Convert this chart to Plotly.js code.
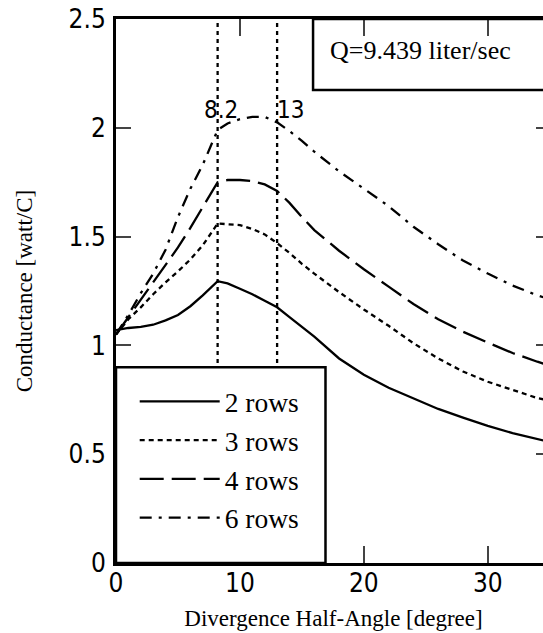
<!DOCTYPE html>
<html>
<head>
<meta charset="utf-8">
<script src="https://cdn.plot.ly/plotly-3.0.1.min.js"></script>
<style>
html,body{margin:0;padding:0;overflow:hidden;background:#fff;}
#chart{width:551px;height:633px;}
</style>
</head>
<body>
<div id="chart"></div>
<script>
// Divergence half-angle [degree]
const angles = [0, 1, 2, 3, 4, 5, 6, 7, 8.2, 9, 10, 11, 12, 13, 14, 15, 16, 18, 20, 22, 24, 26, 28, 30, 32, 34, 35.1];
// Conductance [watt/C]
const rows2 = [1.07, 1.08, 1.085, 1.095, 1.115, 1.14, 1.18, 1.23, 1.295, 1.285, 1.26, 1.235, 1.205, 1.175, 1.13, 1.085, 1.04, 0.94, 0.865, 0.805, 0.756, 0.708, 0.668, 0.63, 0.597, 0.57, 0.555];
const rows3 = [1.05, 1.12, 1.175, 1.235, 1.29, 1.34, 1.395, 1.46, 1.56, 1.558, 1.553, 1.535, 1.51, 1.47, 1.425, 1.375, 1.33, 1.245, 1.165, 1.09, 1.01, 0.94, 0.88, 0.833, 0.796, 0.758, 0.745];
const rows4 = [1.05, 1.13, 1.21, 1.29, 1.37, 1.45, 1.54, 1.635, 1.75, 1.76, 1.76, 1.755, 1.74, 1.71, 1.655, 1.59, 1.53, 1.435, 1.35, 1.27, 1.19, 1.12, 1.063, 1.013, 0.965, 0.925, 0.905];
const rows6 = [1.05, 1.14, 1.24, 1.33, 1.44, 1.59, 1.72, 1.83, 1.99, 2.02, 2.04, 2.05, 2.05, 2.025, 1.985, 1.94, 1.89, 1.80, 1.72, 1.64, 1.545, 1.465, 1.39, 1.33, 1.275, 1.23, 1.21];
const seriesNames = ["2 rows", "3 rows", "4 rows", "6 rows"];
// reference angles marked with vertical lines
const markAngles = [8.2, 13];
const markLabels = ["8.2", "13"];
const markRange = [0, 2.5];
const flowText = "Q=9.439 liter/sec";

const serif = "Liberation Serif, Times New Roman, serif";
const narrow = "DejaVu Sans Condensed, Liberation Sans Narrow, Arial Narrow, sans-serif";

const dashes = ["solid", "5px,4px", "24px,8px", "12px,7px,3px,7px"];
const series = [rows2, rows3, rows4, rows6];

const traces = series.map((ys, i) => ({
  type: "scatter", mode: "lines", x: angles, y: ys, name: seriesNames[i],
  line: {color: "#000", width: 2.3, dash: dashes[i]}
}));
markAngles.forEach(a => traces.push({
  type: "scatter", mode: "lines", x: [a, a], y: markRange, showlegend: false,
  line: {color: "#000", width: 2.3, dash: "4px,4px"}, hoverinfo: "skip"
}));

const layout = {
  width: 551, height: 633,
  margin: {l: 116, r: 0, t: 19, b: 70},
  paper_bgcolor: "#fff", plot_bgcolor: "#fff",
  showlegend: true,
  xaxis: {
    range: [0, 35.1], tickvals: [0, 10, 20, 30], ticks: "inside", ticklen: 17, tickwidth: 2,
    showline: true, linewidth: 3, linecolor: "#000", mirror: "ticks", showgrid: false, zeroline: false,
    tickfont: {family: narrow, size: 26, color: "#000"}, ticklabelstandoff: -5,
    title: {text: "Divergence Half-Angle [degree]", font: {family: serif, size: 23, color: "#000"}, standoff: 13}
  },
  yaxis: {
    range: [0, 2.5], tickvals: [0, 0.5, 1, 1.5, 2, 2.5], ticktext: ["0", "0.5", "1", "1.5", "2", "2.5"],
    ticks: "inside", ticklen: 15, tickwidth: 2, ticklabelstandoff: 2,
    showline: true, linewidth: 3, linecolor: "#000", mirror: "ticks", showgrid: false, zeroline: false,
    tickfont: {family: narrow, size: 26, color: "#000"},
    title: {text: "Conductance [watt/C]", font: {family: serif, size: 23, color: "#000"}, standoff: 30}
  },
  legend: {
    x: 0.043, y: 0.342, xanchor: "left", yanchor: "top",
    bgcolor: "rgba(0,0,0,0)", borderwidth: 0, itemwidth: 80,
    font: {family: serif, size: 27.5, color: "#000"}, tracegroupgap: 0
  },
  shapes: [
    {type: "rect", xref: "paper", yref: "paper", x0: 0, x1: 0.4816, y0: 0, y1: 0.36,
     line: {color: "#000", width: 2.5}, fillcolor: "#fff", layer: "above"},
    {type: "rect", xref: "paper", yref: "paper", x0: 0.453, x1: 1.02, y0: 0.8695, y1: 1,
     line: {color: "#000", width: 2.5}, fillcolor: "rgba(0,0,0,0)", layer: "above"}
  ],
  annotations: [
    {xref: "paper", yref: "paper", x: 0.487, y: 0.943, xanchor: "left", yanchor: "middle",
     text: flowText, showarrow: false, font: {family: serif, size: 26, color: "#000"}},
    ...markAngles.map((a, i) => ({
      xref: "x", yref: "y", x: a + (i === 0 ? 0.3 : 1.1), y: 2.08, xanchor: "center", yanchor: "middle",
      text: markLabels[i], showarrow: false, font: {family: narrow, size: 24, color: "#000"}
    }))
  ]
};

Plotly.newPlot("chart", traces, layout, {staticPlot: true, displayModeBar: false});
</script>
</body>
</html>
